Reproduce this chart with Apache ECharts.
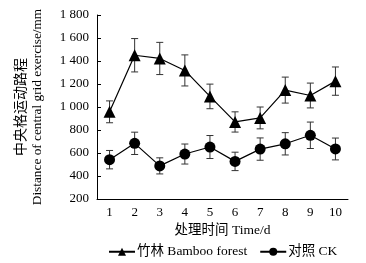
<!DOCTYPE html>
<html><head><meta charset="utf-8">
<script src="https://cdn.jsdelivr.net/npm/echarts@6/dist/echarts.min.js"></script>
<style>html,body{margin:0;padding:0;background:#fff}#c{width:366px;height:263px}</style>
</head><body><div id="c"></div>
<script>
const categories = ['1','2','3','4','5','6','7','8','9','10'];
const bamboo = [958, 1450, 1422, 1318, 1092, 870, 905, 1147, 1100, 1225];
const bambooErr = [95, 145, 140, 135, 107, 88, 95, 113, 108, 123];
const ck = [542, 684, 488, 591, 652, 527, 634, 680, 754, 635];
const ckErr = [80, 97, 70, 87, 100, 80, 97, 97, 115, 95];
const yTicks = {min: 200, max: 1800, interval: 200};
const names = ['竹林 Bamboo forest', '对照 CK'];

const FONT = '"Liberation Serif", "Times New Roman", "Noto Sans CJK SC", serif';
const chart = echarts.init(document.getElementById('c'));

function errData(v, e) { return v.map((x, i) => [i, x - e[i], x + e[i]]); }
function errRender(params, api) {
  const x = api.value(0);
  const lo = api.coord([x, api.value(1)]);
  const hi = api.coord([x, api.value(2)]);
  const w = 3.5;
  const st = {stroke: '#333', lineWidth: 1};
  return {type: 'group', children: [
    {type: 'line', shape: {x1: lo[0], y1: lo[1], x2: hi[0], y2: hi[1]}, style: st},
    {type: 'line', shape: {x1: lo[0] - w, y1: lo[1], x2: lo[0] + w, y2: lo[1]}, style: st},
    {type: 'line', shape: {x1: hi[0] - w, y1: hi[1], x2: hi[0] + w, y2: hi[1]}, style: st}
  ]};
}

chart.setOption({
  animation: false,
  textStyle: {fontFamily: FONT, color: '#000'},
  grid: {left: 97, right: 18, top: 15, bottom: 64},
  legend: {
    left: 103, top: 240, itemWidth: 26, itemHeight: 10, itemGap: 12,
    textStyle: {fontFamily: FONT, fontSize: 13.5, color: '#000', padding: [0, 0, 0, -3]},
    data: names
  },
  xAxis: {
    type: 'category', data: categories, boundaryGap: true,
    name: '处理时间 Time/d', nameLocation: 'middle', nameGap: 24,
    nameTextStyle: {fontFamily: FONT, fontSize: 13.5, color: '#000'},
    axisLine: {lineStyle: {color: '#000', width: 1}},
    axisTick: {inside: true, length: 5, lineStyle: {color: '#000'}},
    axisLabel: {fontFamily: FONT, fontSize: 13, color: '#000', margin: 7}
  },
  yAxis: {
    type: 'value', min: yTicks.min, max: yTicks.max, interval: yTicks.interval,
    name: '{a|中央格运动路程}\n{b|Distance of central grid exercise/mm}',
    nameLocation: 'middle', nameGap: 50, nameRotate: 90,
    nameTextStyle: {
      rich: {
        a: {fontFamily: '"Noto Sans CJK SC", sans-serif', fontSize: 14, fontWeight: 'normal', color: '#000', lineHeight: 18},
        b: {fontFamily: FONT, fontSize: 13.3, color: '#000', lineHeight: 18}
      }
    },
    splitLine: {show: false},
    axisLine: {show: true, lineStyle: {color: '#000', width: 1}},
    axisTick: {show: true, inside: true, length: 4, lineStyle: {color: '#000'}},
    axisLabel: {
      fontFamily: FONT, fontSize: 13, color: '#000', margin: 8,
      formatter: v => v >= 1000 ? Math.floor(v / 1000) + ' ' + String(v % 1000).padStart(3, '0') : String(v)
    }
  },
  series: [
    {type: 'custom', renderItem: errRender, data: errData(bamboo, bambooErr), z: 1, silent: true},
    {type: 'custom', renderItem: errRender, data: errData(ck, ckErr), z: 1, silent: true},
    {
      name: names[0], type: 'line', data: bamboo, symbol: 'triangle', symbolSize: 12,
      itemStyle: {color: '#000'}, lineStyle: {color: '#000', width: 1.2}, z: 3
    },
    {
      name: names[1], type: 'line', data: ck, symbol: 'circle', symbolSize: 11,
      itemStyle: {color: '#000'}, lineStyle: {color: '#000', width: 1.2}, z: 3
    }
  ]
});
</script></body></html>
